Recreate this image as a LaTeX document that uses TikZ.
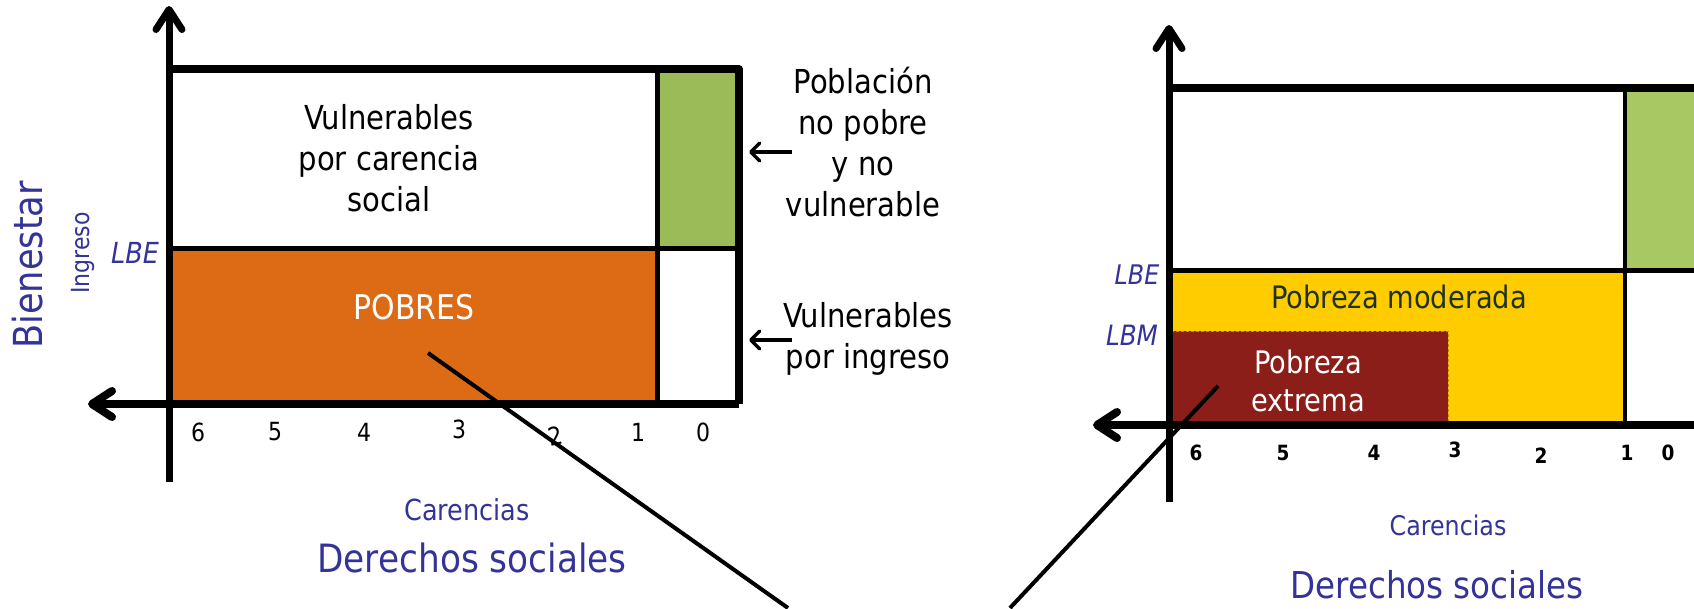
\documentclass[tikz,border=0pt]{standalone}
\usepackage{fontspec}
\setmainfont{DejaVu Sans}[FakeStretch=0.88]
\usetikzlibrary{arrows.meta}
\definecolor{axblue}{RGB}{51,51,153}
\definecolor{orangeF}{RGB}{221,107,21}
\definecolor{greenL}{RGB}{155,187,89}
\definecolor{greenR}{RGB}{168,200,100}
\definecolor{yellowF}{RGB}{255,204,0}
\definecolor{redF}{RGB}{139,30,24}
\definecolor{darktext}{RGB}{30,50,30}
\definecolor{dashcol}{RGB}{200,140,20}
\begin{document}
\begin{tikzpicture}[x=1pt,y=-1pt,
  axisline/.style={line width=7pt, -{Straight Barb[length=20pt,width=26pt,round]}},
  pointer/.style={line width=3.5pt, -{Straight Barb[length=9pt,width=18pt,round]}},
  lbl/.style={font=\fontsize{33}{41}\selectfont, align=center, inner sep=0pt},
  tickL/.style={font=\fontsize{25}{25}\selectfont, inner sep=0pt},
  tickR/.style={font=\bfseries\fontsize{21}{21}\selectfont, inner sep=0pt},
  bluelbl/.style={text=axblue, inner sep=0pt},
  diag/.style={line width=4pt}]
\useasboundingbox (0,0) rectangle (1694,608);

% ---------------- left panel ----------------
\fill[orangeF] (169,248) rectangle (657,404);
\fill[greenL] (657,69) rectangle (739,248);
\draw[line width=5pt] (657,69) -- (657,404);
\draw[line width=5pt] (169,248) -- (739,248);
\draw[line width=8pt, line join=round] (169,69) -- (739,69) -- (739,404);
\draw[axisline] (169,482) -- (169,6);
\draw[axisline, line width=8pt] (739,404) -- (88,404);

\node[lbl] (vpc) at (389,158) {Vulnerables\\por carencia\\social};
\node[lbl, text=white, font=\fontsize{34}{40}\selectfont] (pobres) at (414,307) {POBRES};
\node[lbl] (pnp) at (863,142) {Población\\no pobre\\y no\\vulnerable};
\node[lbl] (vpi) at (868,339) {Vulnerables\\por ingreso};
\coordinate (p1s) at (792,152); \coordinate (p1e) at (749,152);
\coordinate (p2s) at (792,340); \coordinate (p2e) at (749,340);
\draw[pointer] (p1s) -- (p1e);
\draw[pointer] (p2s) -- (p2e);

\node[tickL] (l6) at (198,432) {6};
\node[tickL] (l5) at (275,432) {5};
\node[tickL] (l4) at (364,432) {4};
\node[tickL] (l3) at (459,429) {3};
\node[tickL, rotate=12] (l2) at (555,436) {2};
\node[tickL] (l1) at (638,432) {1};
\node[tickL] (l0) at (703,432) {0};

\node[bluelbl, font=\fontsize{29}{29}\selectfont] (carL) at (467,510) {Carencias};
\node[bluelbl, font=\fontsize{39}{39}\selectfont] (dsL) at (472,558) {Derechos sociales};
\node[bluelbl, font=\fontsize{40}{40}\selectfont, rotate=90] (bien) at (28,265) {Bienestar};
\node[bluelbl, font=\fontsize{25}{25}\selectfont, rotate=90] (ingr) at (83,253) {Ingreso};
\node[bluelbl, font=\itshape\fontsize{29}{29}\selectfont] (lbeL) at (135,253) {LBE};

% ---------------- right panel ----------------
\fill[yellowF] (1169,270) rectangle (1625,425);
\fill[redF] (1169,331) rectangle (1448,425);
\draw[dashcol, line width=1pt, dash pattern=on 3pt off 2pt] (1171,331) -- (1448,331) -- (1448,422);
\fill[greenR] (1625,88) rectangle (1694,270);
\draw[line width=4pt] (1625,88) -- (1625,425);
\draw[line width=5pt] (1169,270) -- (1694,270);
\draw[line width=8pt] (1169,88) -- (1694,88);
\draw[axisline] (1169,502) -- (1169,25);
\draw[axisline, line width=8pt] (1694,425) -- (1093,425);

\node[lbl, text=darktext, font=\fontsize{31}{31}\selectfont] (pmod) at (1399,297) {Pobreza moderada};
\node[lbl, text=white, font=\fontsize{31}{38}\selectfont] (pext) at (1308,381) {Pobreza\\extrema};
\node[bluelbl, font=\itshape\fontsize{27}{27}\selectfont] (lbeR) at (1137,275) {LBE};
\node[bluelbl, font=\itshape\fontsize{28}{28}\selectfont] (lbmR) at (1132,335) {LBM};

\node[tickR] (r6) at (1196,453) {6};
\node[tickR] (r5) at (1283,453) {5};
\node[tickR] (r4) at (1374,453) {4};
\node[tickR] (r3) at (1455,450) {3};
\node[tickR] (r2) at (1541,456) {2};
\node[tickR] (r1) at (1627,453) {1};
\node[tickR] (r0) at (1668,453) {0};

\node[bluelbl, font=\fontsize{27}{27}\selectfont] (carR) at (1448,525) {Carencias};
\node[bluelbl, font=\fontsize{37}{37}\selectfont] (dsR) at (1437,585) {Derechos sociales};

% ---------------- diagonal connectors ----------------
\coordinate (dA) at (428,353); \coordinate (dB) at (788,608);
\coordinate (dC) at (1218,386); \coordinate (dD) at (1010,608);
\draw[diag] (dA) -- (dB);
\draw[diag] (dC) -- (dD);
\end{tikzpicture}
\end{document}
